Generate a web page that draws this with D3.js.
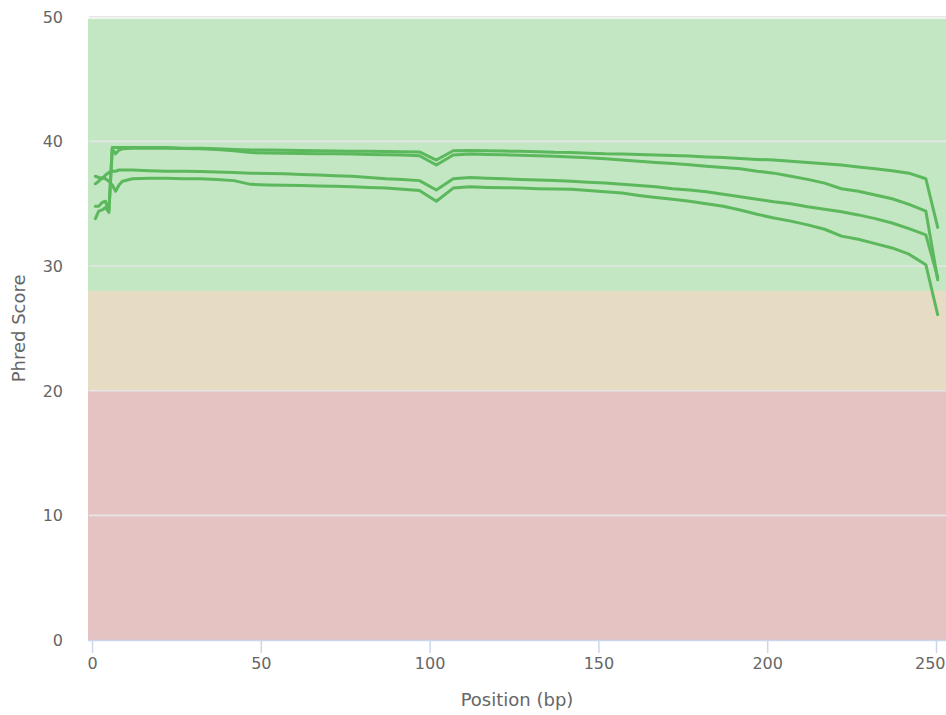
<!DOCTYPE html>
<html>
<head>
<meta charset="utf-8">
<script src="https://cdn.jsdelivr.net/npm/d3@7"></script>
<style>
  html, body { margin: 0; padding: 0; background: #ffffff; }
  svg { display: block; }
  text { font-family: "DejaVu Sans", Verdana, sans-serif; }
</style>
</head>
<body>
<svg id="chart" width="946" height="715"></svg>
<script>
// Base positions (FastQC bins; ranged bins at their mid-point)
const positions = [1, 2, 3, 4, 5, 6, 7, 8, 9,
  12, 17, 22, 27, 32, 37, 42, 47, 52, 57, 62, 67, 72, 77, 82, 87, 92, 97,
  102, 107, 112, 117, 122, 127, 132, 137, 142, 147, 152, 157, 162, 167, 172, 177,
  182, 187, 192, 197, 202, 207, 212, 217, 222, 227, 232, 237, 242, 247, 250.5];

const sampleA = [34.8, 34.8, 35.1, 35.2, 34.4, 39.5, 39.5, 39.5, 39.5,
  39.5, 39.5, 39.5, 39.45, 39.45, 39.4, 39.35, 39.3, 39.3, 39.28, 39.27, 39.25, 39.23, 39.2, 39.2, 39.18, 39.17, 39.15,
  38.5, 39.25, 39.27, 39.25, 39.22, 39.2, 39.17, 39.12, 39.1, 39.05, 39.0, 38.98, 38.95, 38.9, 38.87, 38.82,
  38.75, 38.7, 38.62, 38.55, 38.5, 38.4, 38.3, 38.2, 38.1, 37.95, 37.8, 37.65, 37.45, 37.0, 33.1];

const sampleB = [33.8, 34.4, 34.5, 34.7, 34.3, 39.4, 39.0, 39.3, 39.4,
  39.45, 39.45, 39.45, 39.42, 39.4, 39.35, 39.25, 39.1, 39.07, 39.05, 39.03, 39.0, 39.0, 38.98, 38.95, 38.93, 38.9, 38.85,
  38.1, 38.9, 38.98, 38.95, 38.92, 38.88, 38.85, 38.8, 38.75, 38.68, 38.6, 38.5, 38.4, 38.3, 38.22, 38.12,
  38.0, 37.9, 37.8, 37.6, 37.45, 37.2, 36.95, 36.65, 36.2, 36.0, 35.7, 35.4, 34.95, 34.4, 28.9];

const sampleC = [37.2, 37.1, 37.0, 37.3, 37.5, 37.6, 37.6, 37.7, 37.7,
  37.7, 37.65, 37.6, 37.6, 37.58, 37.55, 37.5, 37.45, 37.42, 37.4, 37.35, 37.3, 37.25, 37.2, 37.1, 37.0, 36.95, 36.85,
  36.1, 37.0, 37.1, 37.05, 37.0, 36.95, 36.9, 36.87, 36.8, 36.72, 36.65, 36.55, 36.45, 36.35, 36.2, 36.1,
  35.95, 35.75, 35.55, 35.35, 35.15, 35.0, 34.75, 34.55, 34.35, 34.1, 33.8, 33.45, 33.0, 32.5, 29.1];

const sampleD = [36.6, 36.8, 37.1, 37.0, 36.8, 36.5, 36.0, 36.5, 36.8,
  37.0, 37.05, 37.05, 37.0, 37.0, 36.95, 36.85, 36.55, 36.5, 36.47, 36.45, 36.42, 36.4, 36.35, 36.3, 36.25, 36.15, 36.05,
  35.2, 36.25, 36.35, 36.3, 36.28, 36.25, 36.2, 36.17, 36.15, 36.05, 35.95, 35.85, 35.65, 35.5, 35.35, 35.2,
  35.0, 34.8, 34.5, 34.15, 33.85, 33.6, 33.3, 32.95, 32.4, 32.15, 31.8, 31.45, 30.95, 30.1, 26.1];

const seriesList = [sampleA, sampleB, sampleC, sampleD];

const xTicks = [0, 50, 100, 150, 200, 250];
const yTicks = [0, 10, 20, 30, 40, 50];
const bands = [
  { from: 28, to: 50, color: "#c3e6c3" },
  { from: 20, to: 28, color: "#e6dcc3" },
  { from: 0, to: 20, color: "#e6c3c3" }
];
const xTitle = "Position (bp)";
const yTitle = "Phred Score";

const svg = d3.select("#chart");
const plotLeft = 88, plotRight = 946, plotBottom = 640;

const x = d3.scaleLinear().domain([0, 250]).range([92, 936]);
const y = d3.scaleLinear().domain([0, 50]).range([640, 16.7]);

// plot bands
const bandTop = d => d.to === 50 ? y(d.to) + 2 : y(d.to);
svg.append("g").selectAll("rect").data(bands).join("rect")
  .attr("x", plotLeft)
  .attr("width", plotRight - plotLeft)
  .attr("y", d => bandTop(d))
  .attr("height", d => y(d.from) - bandTop(d))
  .attr("fill", d => d.color);

// grid lines
svg.append("g").selectAll("line").data(yTicks.filter(t => t > 0)).join("line")
  .attr("x1", plotLeft + 1).attr("x2", plotRight)
  .attr("y1", d => y(d)).attr("y2", d => y(d))
  .attr("stroke", "#e6e6e6").attr("stroke-width", 1.6);

// y axis labels
const yAxis = d3.axisLeft(y).tickValues(yTicks).tickSize(0).tickPadding(0);
const gy = svg.append("g").attr("transform", "translate(63,0)").call(yAxis);
gy.select(".domain").remove();
gy.selectAll("text")
  .attr("x", 0).attr("dy", "0.35em")
  .attr("text-anchor", "end")
  .attr("fill", "#666666")
  .style("font-size", "16px")
  .style("font-family", "'DejaVu Sans', Verdana, sans-serif");

// x axis
const xAxis = d3.axisBottom(x).tickValues(xTicks).tickSize(13).tickPadding(5).tickFormat(d3.format("d"));
const gx = svg.append("g").attr("transform", `translate(0,${plotBottom})`).call(xAxis);
gx.select(".domain").attr("d", `M${plotLeft},0.5H${plotRight}`).attr("stroke", "#ccd6eb").attr("stroke-width", 1.5);
gx.selectAll(".tick line").attr("stroke", "#ccd6eb").attr("stroke-width", 1.5);
gx.selectAll(".tick text")
  .attr("fill", "#666666")
  .style("font-size", "16px")
  .style("font-family", "'DejaVu Sans', Verdana, sans-serif");
// keep the last label inside the chart (as the original does)
gx.selectAll(".tick text").filter(d => d === 250)
  .attr("text-anchor", "end")
  .attr("x", 945 - x(250));

// lines
const line = d3.line()
  .x((d, i) => x(positions[i]))
  .y(d => y(d))
  .curve(d3.curveLinear);

svg.append("g").selectAll("path").data(seriesList).join("path")
  .attr("d", d => line(d))
  .attr("fill", "none")
  .attr("stroke", "#5cb85c")
  .attr("stroke-width", 3)
  .attr("stroke-linejoin", "round")
  .attr("stroke-linecap", "round");

// axis titles
svg.append("text")
  .attr("x", (x(0) + x(250)) / 2 + 3).attr("y", 706)
  .attr("text-anchor", "middle")
  .attr("fill", "#666666")
  .style("font-size", "18px")
  .text(xTitle);

svg.append("text")
  .attr("transform", `translate(25,${(y(50) + y(0)) / 2}) rotate(-90)`)
  .attr("text-anchor", "middle")
  .attr("fill", "#666666")
  .style("font-size", "18px")
  .text(yTitle);
</script>
</body>
</html>
